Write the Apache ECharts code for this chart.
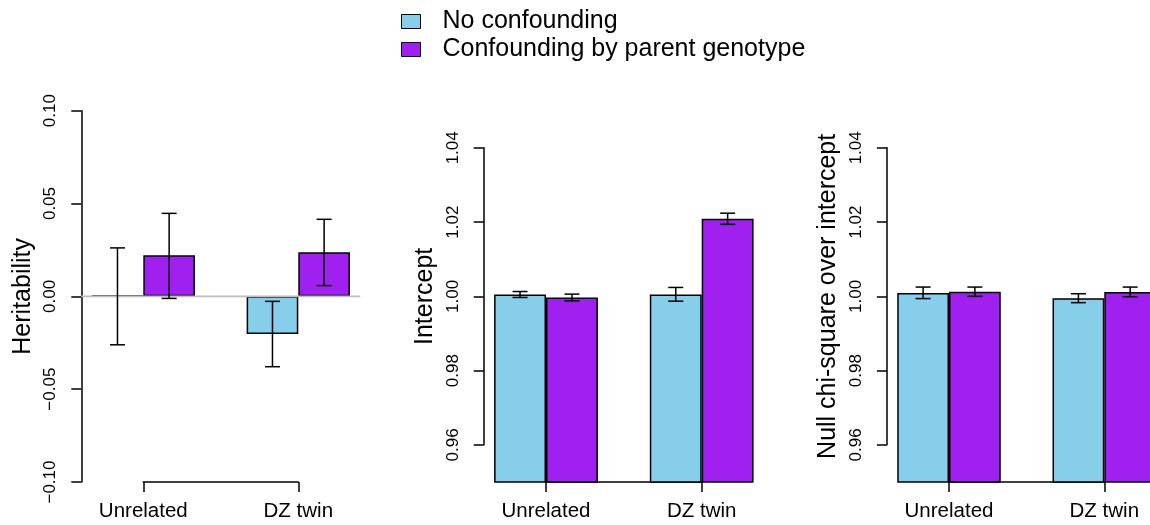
<!DOCTYPE html>
<html><head><meta charset="utf-8">
<script src="https://cdn.jsdelivr.net/npm/echarts@6/dist/echarts.min.js"></script>
<style>html,body{margin:0;padding:0;background:#fff}#c{width:1150px;height:525px}</style>
</head><body><div id="c"></div>
<script>
// ---- data ----
const categories = ["Unrelated", "DZ twin"];
const seriesNames = ["No confounding", "Confounding by parent genotype"];
const yTitles = ["Heritability", "Intercept", "Null chi-square over intercept"];

const heritTicks = [-0.10, -0.05, 0.00, 0.05, 0.10];
const ratioTicks = [0.96, 0.98, 1.00, 1.02, 1.04];

const heritNone   = [0.0003, -0.0203];
const heritNoneLo = [-0.0261, -0.0379];
const heritNoneHi = [0.0261, -0.0027];
const heritConf   = [0.0221, 0.0237];
const heritConfLo = [-0.0011, 0.0058];
const heritConfHi = [0.0447, 0.0415];

const interNone   = [1.0005, 1.0005];
const interNoneLo = [0.9997, 0.9987];
const interNoneHi = [1.0013, 1.0024];
const interConf   = [0.9997, 1.0209];
const interConfLo = [0.9988, 1.0194];
const interConfHi = [1.0006, 1.0224];

const chiNone   = [1.0009, 0.9995];
const chiNoneLo = [0.9994, 0.9983];
const chiNoneHi = [1.0025, 1.0007];
const chiConf   = [1.00125, 1.0012];
const chiConfLo = [1.0000, 0.9999];
const chiConfHi = [1.0025, 1.0025];

const zeroLine = 0;

// ---- layout ----
const FONT = "Liberation Sans, Arial, Helvetica, sans-serif";
const COLORS = ["#87CEEB", "#A020F0"];
const plotTop = 110.7, plotBottom = 482;
const panels = [
  {c1: 143.3, c2: 298.3, yMin: -0.10, yMax: 0.10, ticks: heritTicks, title: yTitles[0],
   vals: [heritNone, heritConf], lo: [heritNoneLo, heritConfLo], hi: [heritNoneHi, heritConfHi], zero: true},
  {c1: 546, c2: 701.7, yMin: 0.95, yMax: 1.05, ticks: ratioTicks, title: yTitles[1],
   vals: [interNone, interConf], lo: [interNoneLo, interConfLo], hi: [interNoneHi, interConfHi]},
  {c1: 949, c2: 1104.3, yMin: 0.95, yMax: 1.05, ticks: ratioTicks, title: yTitles[2],
   vals: [chiNone, chiConf], lo: [chiNoneLo, chiConfLo], hi: [chiNoneHi, chiConfHi]}
];

const LW = 1.5;
const axisLineStyle = {color: "#000", width: LW};
const grid = [], xAxis = [], yAxis = [], series = [];

panels.forEach((p, i) => {
  const band = p.c2 - p.c1;
  const h = plotBottom - plotTop;
  const ppu = h / (p.yMax - p.yMin);
  const tMin = Math.min(...p.ticks), tMax = Math.max(...p.ticks);
  const interval = p.ticks[1] - p.ticks[0];
  const gA = 3 * i, gB = 3 * i + 1, gC = 3 * i + 2;
  // grid A: bars
  grid.push({left: p.c1 - band / 2, top: plotTop, width: 2 * band, height: h, outerBoundsMode: "none", containLabel: false});
  // grid B: x axis between group centres
  grid.push({left: p.c1, top: plotTop, width: band, height: h, outerBoundsMode: "none", containLabel: false});
  // grid C: y axis over tick range
  grid.push({left: p.c1 - 0.4 * band, top: plotTop + (p.yMax - tMax) * ppu, width: 1.8 * band,
    height: (tMax - tMin) * ppu, outerBoundsMode: "none", containLabel: false});

  xAxis.push({type: "category", gridIndex: gA, data: categories, show: false});
  xAxis.push({type: "category", gridIndex: gB, data: categories, boundaryGap: false,
    axisLine: {show: true, lineStyle: axisLineStyle},
    axisTick: {show: true, length: 10, inside: false, lineStyle: axisLineStyle},
    axisLabel: {show: true, color: "#000", fontSize: 20.5, fontFamily: FONT, margin: 19, interval: 0},
    splitLine: {show: false}});
  xAxis.push({type: "value", gridIndex: gC, min: 0, max: 1, show: false});

  yAxis.push({type: "value", gridIndex: gA, min: p.yMin, max: p.yMax, show: false});
  yAxis.push({type: "value", gridIndex: gB, min: 0, max: 1, show: false});
  yAxis.push({type: "value", gridIndex: gC, min: tMin, max: tMax, interval: interval,
    axisLine: {show: true, lineStyle: axisLineStyle},
    axisTick: {show: true, length: 10, inside: false, lineStyle: axisLineStyle},
    axisLabel: {show: true, rotate: 90, color: "#000", fontSize: 17, fontFamily: FONT, margin: 22,
      formatter: v => v.toFixed(2).replace("-", "\u2212")},
    splitLine: {show: false},
    name: p.title, nameLocation: "middle", nameGap: 46, nameRotate: 90,
    nameTextStyle: {color: "#000", fontSize: 25, fontFamily: FONT}});

  // bars
  [0, 1].forEach(s => {
    series.push({type: "bar", name: seriesNames[s], xAxisIndex: gA, yAxisIndex: gA,
      data: p.vals[s], barWidth: band / 3, barGap: "0%", z: 2, silent: true,
      itemStyle: {color: COLORS[s], borderColor: "#000", borderWidth: LW}});
  });
  if (p.zero) {
    series.push({type: "line", xAxisIndex: gC, yAxisIndex: gC, data: [[0, zeroLine], [1, zeroLine]],
      symbol: "none", silent: true, z: 3, lineStyle: {color: "#BEBEBE", width: 1.6}});
  }
  // error bars
  const errData = [];
  [0, 1].forEach(s => categories.forEach((c, k) => errData.push([k, p.lo[s][k], p.hi[s][k], s])));
  series.push({type: "custom", xAxisIndex: gA, yAxisIndex: gA, data: errData, z: 5, silent: true, clip: false,
    renderItem: (params, api) => {
      const bw = api.size([1, 0])[0];
      const off = (api.value(3) === 0 ? -1 : 1) * bw / 6;
      const top = api.coord([api.value(0), api.value(2)]);
      const bot = api.coord([api.value(0), api.value(1)]);
      const x = top[0] + off, cap = 7.5;
      const st = {stroke: "#000", lineWidth: LW};
      return {type: "group", children: [
        {type: "line", shape: {x1: x, y1: top[1], x2: x, y2: bot[1]}, style: st},
        {type: "line", shape: {x1: x - cap, y1: top[1], x2: x + cap, y2: top[1]}, style: st},
        {type: "line", shape: {x1: x - cap, y1: bot[1], x2: x + cap, y2: bot[1]}, style: st}
      ]};
    }});
});

const chart = echarts.init(document.getElementById("c"), null, {renderer: "canvas"});
chart.setOption({
  animation: false,
  backgroundColor: "#fff",
  legend: {data: seriesNames, orient: "vertical", left: 401, top: 9, padding: 0, icon: "rect",
    itemWidth: 19, itemHeight: 14, itemGap: 3, selectedMode: false,
    itemStyle: {borderColor: "#000", borderWidth: 1},
    textStyle: {color: "#000", fontSize: 25, fontFamily: FONT, lineHeight: 25, padding: [0, 0, 0, 17]}},
  grid, xAxis, yAxis, series
});
</script></body></html>
